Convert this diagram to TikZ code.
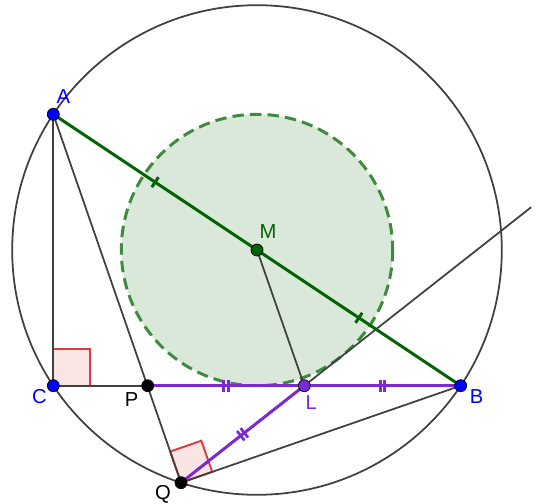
\documentclass[tikz,border=0pt]{standalone}
\usepackage{fontspec}
\setmainfont{Liberation Sans}
\usepackage{tikz}
\usetikzlibrary{calc,decorations.markings}
\definecolor{ptblue}{RGB}{0,0,255}
\definecolor{segdark}{RGB}{0,100,0}
\definecolor{incircle}{RGB}{62,138,62}
\definecolor{incirclepale}{RGB}{217,232,217}
\definecolor{segpurple}{RGB}{124,40,212}
\definecolor{linegray}{RGB}{64,64,64}
\definecolor{anglered}{RGB}{220,60,60}
\definecolor{anglepale}{RGB}{250,228,228}

\tikzset{
  thinline/.style={draw=linegray,line width=1pt},
  thickline/.style={line width=1.7pt},
  pt/.style={circle,draw=black,line width=0.4pt,inner sep=0pt,minimum size=0.24cm},
  lbl/.style={font=\fontsize{11.5}{13}\selectfont,inner sep=0pt},
  rightangle/.style={draw=anglered,fill=anglepale,line width=1.1pt},
  tickone/.style={postaction={decorate,decoration={markings,
    mark=at position 0.5 with {\draw[line width=1.7pt] (0,-6) -- (0,6);}}}},
  ticktwo/.style={postaction={decorate,decoration={markings,
    mark=at position 0.5 with {\draw[line width=1.5pt] (-2.3,-6) -- (-2.3,6)
      (2.3,-6) -- (2.3,6);}}}}
}

\begin{document}
\begin{tikzpicture}[x=0.02cm,y=-0.02cm]
  \useasboundingbox (0,0) rectangle (542,504);
  % points
  \coordinate (A) at (53.3,114.3);
  \coordinate (B) at (460.7,385.7);
  \coordinate (C) at (53.3,385.7);
  \coordinate (M) at ($(A)!0.5!(B)$);
  \coordinate (P) at (147.7,385.7);
  \coordinate (L) at (304.3,385.7);
  \coordinate (Q) at (181,482.7);
  \coordinate (E) at ($(Q)!2.84!(L)$);

  % circles
  \draw[thinline] (M) circle (244.8);
  \draw[draw=incircle,fill=incirclepale,line width=1.7pt,dash pattern=on 6.5pt off 3.5pt] (M) circle (135.7);

  % right angles
  \draw[rightangle] (C) rectangle ($(C)+(37,-37)$);
  \coordinate (qa) at ($(Q)!0.66cm!(A)$);
  \coordinate (qb) at ($(Q)!0.66cm!(B)$);
  \draw[rightangle] (Q) -- (qa) -- ($(qa)+(qb)-(Q)$) -- (qb) -- cycle;

  % thin lines
  \draw[thinline] (A) -- (C) -- (B);
  \draw[thinline] (A) -- (Q) -- (B);
  \draw[thinline] (M) -- (L);
  \draw[thinline] (Q) -- (E);

  % coloured segments
  \draw[thickline,segdark,tickone] (A) -- (M);
  \draw[thickline,segdark,tickone] (M) -- (B);
  \draw[thickline,segpurple,ticktwo] (P) -- (L);
  \draw[thickline,segpurple,ticktwo] (L) -- (B);
  \draw[thickline,segpurple,ticktwo] (Q) -- (L);

  % dots
  \node[pt,fill=ptblue] (nA) at (A) {};
  \node[pt,fill=ptblue] (nB) at (B) {};
  \node[pt,fill=ptblue] (nC) at (C) {};
  \node[pt,fill=black] (nP) at (P) {};
  \node[pt,fill=black] (nQ) at (Q) {};
  \node[pt,fill=segdark] (nM) at (M) {};
  \node[pt,fill=segpurple] (nL) at (L) {};

  % labels
  \node[lbl,text=ptblue] (lA) at ($(A)+(10,-18)$) {A};
  \node[lbl,text=ptblue] (lB) at ($(B)+(16,11)$) {B};
  \node[lbl,text=ptblue] (lC) at ($(C)+(-14,11)$) {C};
  \node[lbl] (lP) at ($(P)+(-16,14)$) {P};
  \node[lbl] (lQ) at ($(Q)+(-18,12)$) {Q};
  \node[lbl,text=segdark] (lM) at ($(M)+(11,-18)$) {M};
  \node[lbl,text=segpurple] (lL) at ($(L)+(7,17)$) {L};
\end{tikzpicture}
\end{document}
